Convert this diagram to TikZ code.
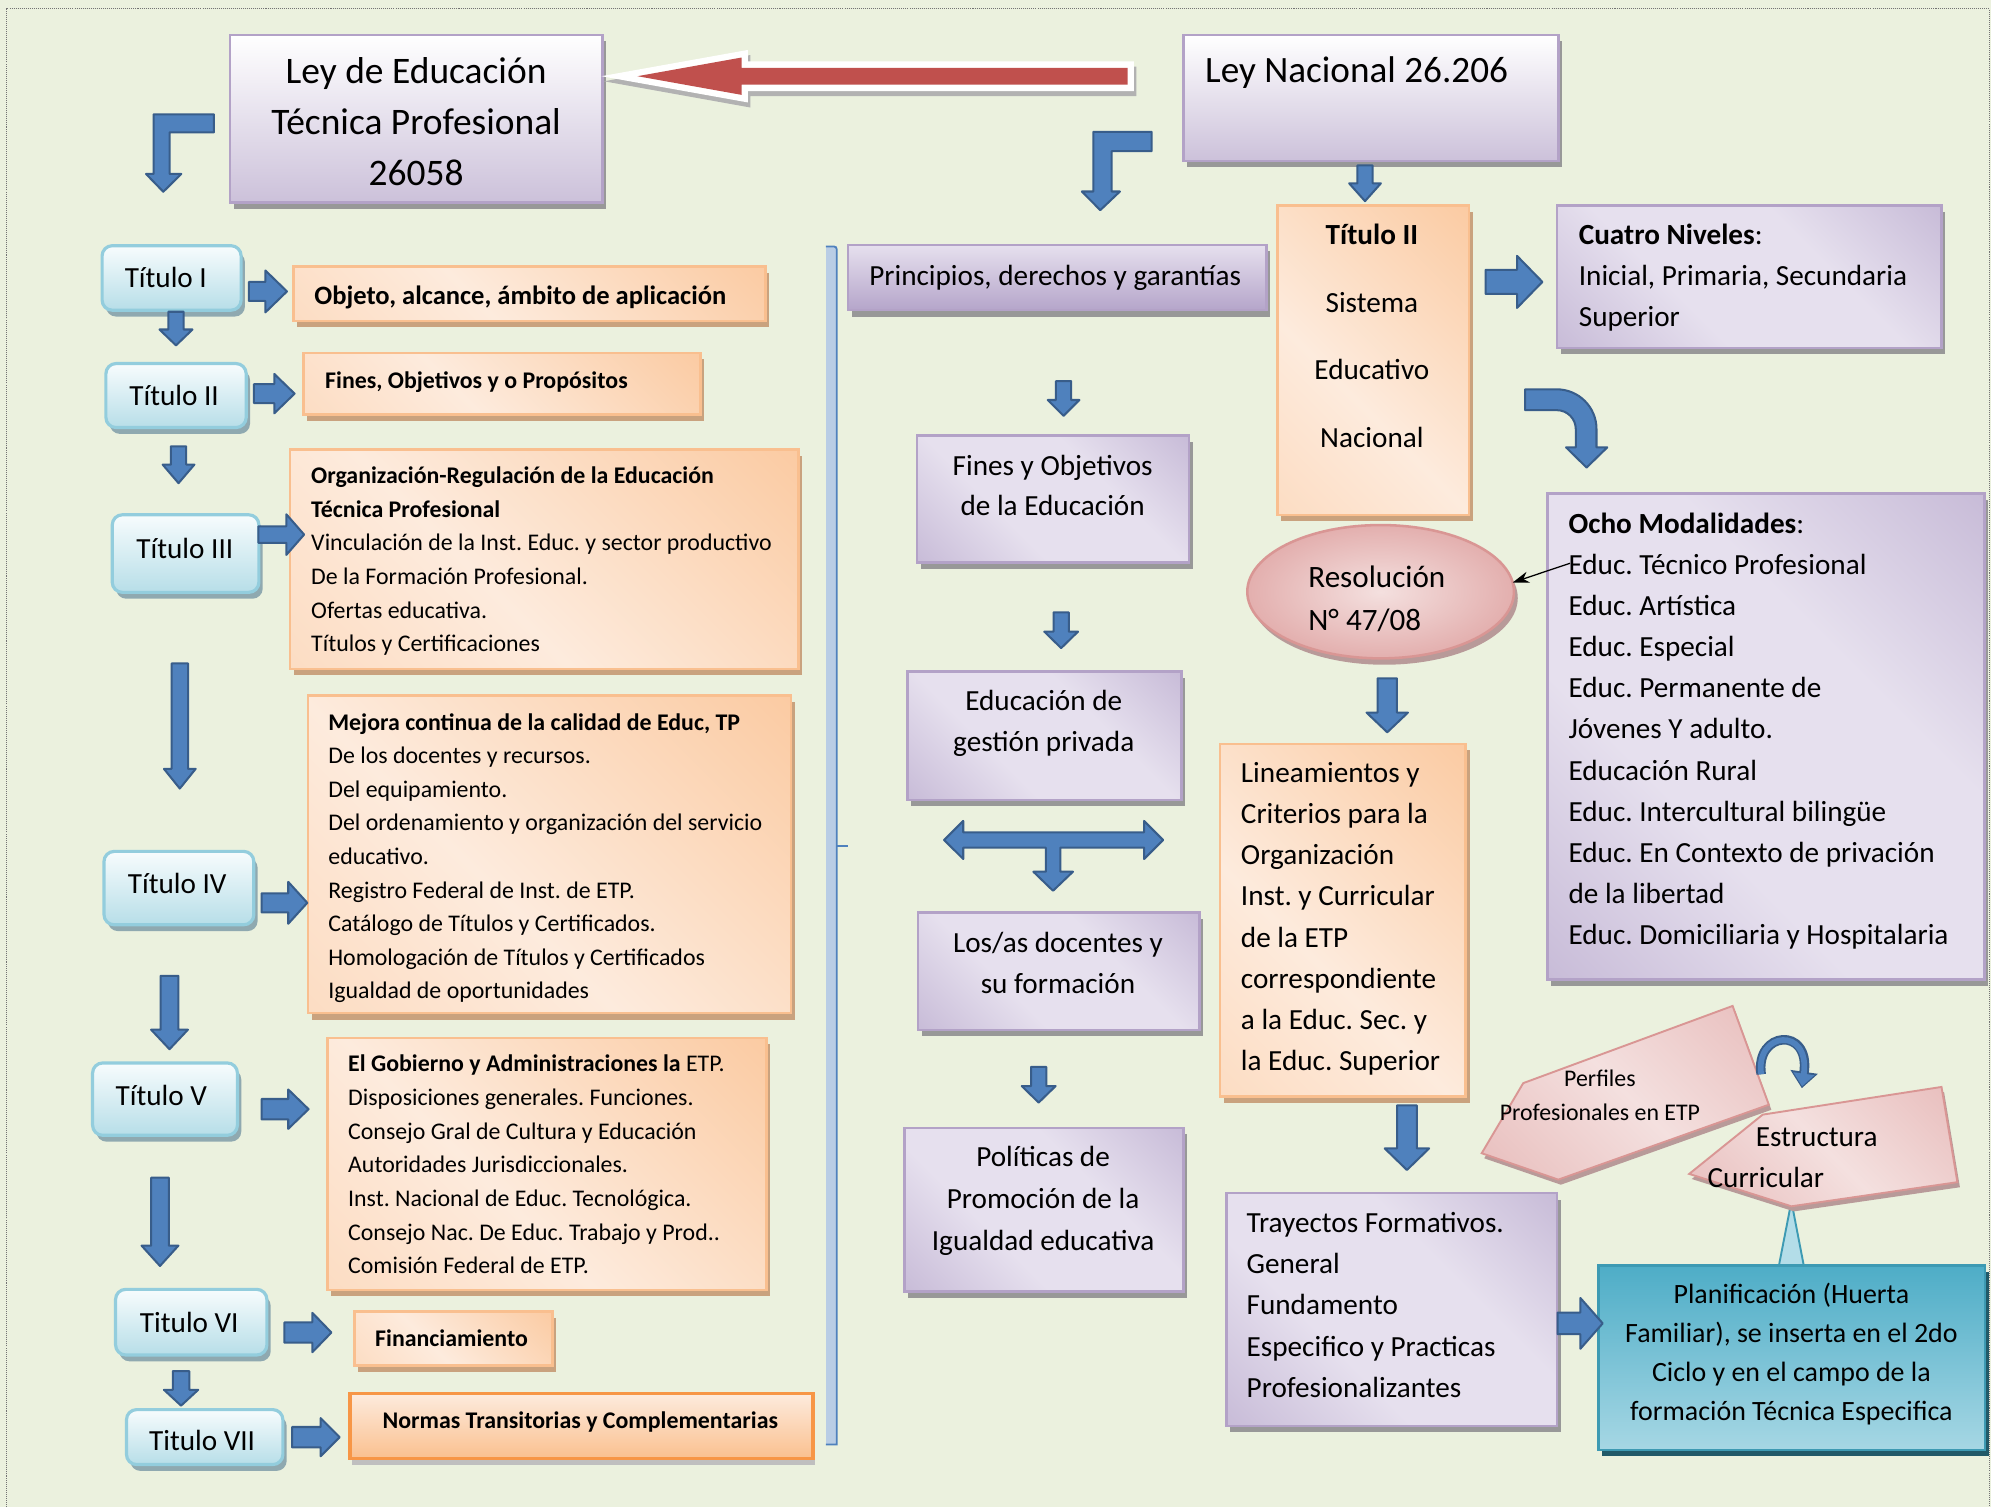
\documentclass[tikz,border=0pt]{standalone}
\usepackage{fontspec}
\setmainfont{Carlito}
\usetikzlibrary{shapes.geometric,shadows,arrows.meta}
\frenchspacing
\definecolor{bg}{HTML}{EBF1DE}
\definecolor{pdark}{HTML}{B5A5CA}
\definecolor{plight}{HTML}{E6E0EE}
\definecolor{pbot}{HTML}{CCC1DA}
\definecolor{pborder}{HTML}{B3A2C7}
\definecolor{shgray}{HTML}{989898}
\definecolor{odark}{HTML}{FAC08F}
\definecolor{omid}{HTML}{FCD5B5}
\definecolor{olight}{HTML}{FDEBDD}
\definecolor{oborder}{HTML}{F9BF8F}
\definecolor{oshadow}{HTML}{C9A27E}
\definecolor{nborder}{HTML}{F79646}
\definecolor{tbtop}{HTML}{F7FCFD}
\definecolor{tbbot}{HTML}{B7DEE8}
\definecolor{tbborder}{HTML}{93CDDD}
\definecolor{tbshadow}{HTML}{8FA9B0}
\definecolor{arrowblue}{HTML}{4F81BD}
\definecolor{arrowdark}{HTML}{385D8A}
\definecolor{redarrow}{HTML}{C0504D}
\definecolor{pkdark}{HTML}{E3AFAE}
\definecolor{pklight}{HTML}{F4E0DF}
\definecolor{pkborder}{HTML}{D99694}
\definecolor{pkshadow}{HTML}{B89A99}
\definecolor{teal}{HTML}{4EADC7}
\definecolor{teallight}{HTML}{A6D7E4}
\definecolor{tealborder}{HTML}{3D9AB3}
\definecolor{tealshadow}{HTML}{215968}
\definecolor{brfill}{HTML}{B9CDE5}
\pgfdeclarehorizontalshading{purplediag}{100bp}{color(0bp)=(pdark); color(38bp)=(plight); color(62bp)=(plight); color(100bp)=(pdark)}
\pgfdeclarehorizontalshading{orangediag}{100bp}{color(0bp)=(omid); color(42bp)=(olight); color(100bp)=(odark)}
\pgfdeclarehorizontalshading{pinkdiag}{100bp}{color(0bp)=(pkdark); color(50bp)=(pklight); color(100bp)=(pkdark)}
\newcommand\fsz[2]{\fontsize{#1}{#2}\selectfont}
\newcommand\fstrut[1]{\rule{0pt}{#1pt}}
\newcommand\bx[6]{\node[#2, anchor=north west, minimum width={#5pt-#3pt}, minimum height={#6pt-#4pt}] (#1) at (#3,#4) {};}
\newcommand\blockarr[7]{%
  \begin{scope}[shift={(#1,#2)}, rotate=#3]
    \path[blockarrow] (0,{-#5/2}) -- ({#4-#7},{-#5/2}) -- ({#4-#7},{-#6/2}) -- (#4,0) -- ({#4-#7},{#6/2}) -- ({#4-#7},{#5/2}) -- (0,{#5/2}) -- cycle;
  \end{scope}}
\tikzset{
  boxbase/.style={rectangle, inner sep=0, outer sep=0, line width=2pt},
  purpv/.style={boxbase, draw=pborder, top color=white, bottom color=pbot,
    drop shadow={shadow xshift=3pt, shadow yshift=-5pt, opacity=1, fill=shgray}},
  purpv2/.style={boxbase, draw=pborder, top color=plight, bottom color=pdark,
    drop shadow={shadow xshift=3pt, shadow yshift=-5pt, opacity=1, fill=shgray}},
  purpd/.style={boxbase, draw=pborder, shading=purplediag, shading angle=45,
    drop shadow={shadow xshift=3pt, shadow yshift=-5pt, opacity=1, fill=shgray}},
  orangebox/.style={boxbase, draw=oborder, shading=orangediag, shading angle=45,
    drop shadow={shadow xshift=3pt, shadow yshift=-5pt, opacity=1, fill=oshadow}},
  normasbox/.style={boxbase, draw=nborder, line width=2.5pt, top color=olight, bottom color=odark,
    drop shadow={shadow xshift=2pt, shadow yshift=-5pt, opacity=1, fill=black!25}},
  titlebox/.style={boxbase, rounded corners=8pt, draw=tbborder, line width=2.5pt, top color=tbtop, bottom color=tbbot,
    drop shadow={shadow xshift=3pt, shadow yshift=-5pt, opacity=1, fill=tbshadow}},
  calloutbox/.style={boxbase, draw=tealborder, top color=teal, bottom color=teallight,
    drop shadow={shadow xshift=3pt, shadow yshift=-5pt, opacity=1, fill=tealshadow}},
  resell/.style={ellipse, inner sep=0, outer sep=0, draw=pkborder, line width=2pt, inner color=pklight, outer color=pkdark,
    drop shadow={shadow xshift=3pt, shadow yshift=-5pt, opacity=1, fill=pkshadow}},
  pinkshape/.style={draw=pkborder, line width=1.5pt, shading=pinkdiag, shading angle=45,
    drop shadow={shadow xshift=2pt, shadow yshift=-4pt, opacity=1, fill=pkshadow}},
  blockarrow/.style={fill=arrowblue, draw=arrowdark, line width=1.6pt, line join=round},
  lbl/.style={inner sep=0, outer sep=0, text=black},
}
\begin{document}
\begin{tikzpicture}[x=1pt,y=-1pt]
\useasboundingbox (0,0) rectangle (1568,1186.8);
\fill[bg] (0,0) rectangle (1568,1186.8);
\draw[black!55, line width=0.6pt, dash pattern=on 0.8pt off 0.8pt] (5,1186.8) -- (5,6.9) -- (1566.7,6.9) -- (1566.7,1186.8);

% ---------- boxes ----------
\bx{ley}{purpv}{181}{27.5}{474.5}{159.6}
\bx{nac}{purpv}{932}{27.5}{1227.2}{126.7}

\bx{t1}{titlebox}{80.4}{193.5}{189.9}{244.3}
\bx{t2}{titlebox}{83.4}{286.3}{193.9}{336.7}
\bx{t3}{titlebox}{88.4}{405.4}{203.9}{466.5}
\bx{t4}{titlebox}{81.9}{670.5}{199.9}{728.3}
\bx{t5}{titlebox}{72.9}{837.1}{187}{894.1}
\bx{t6}{titlebox}{91}{1015.4}{210.2}{1067.1}
\bx{t7}{titlebox}{99.6}{1110.1}{222.8}{1153.4}

\bx{o1}{orangebox}{231}{210}{602.7}{252.7}
\bx{o2}{orangebox}{239}{277.9}{551.5}{326.4}
\bx{o3}{orangebox}{228.5}{353.9}{628.8}{526.8}
\bx{o4}{orangebox}{242.6}{547.8}{622.8}{797.9}
\bx{o5}{orangebox}{258}{817.3}{603.5}{1015.8}
\bx{o6}{orangebox}{279.1}{1033}{435}{1075.5}
\bx{o7}{normasbox}{275.6}{1097.5}{640.2}{1148.5}

\bx{p1}{purpv2}{668}{192.8}{997.4}{244.3}
\bx{p2}{purpd}{722.2}{342.8}{936.5}{442.8}
\bx{p3}{purpd}{714.7}{528.7}{930.6}{630}
\bx{p4}{purpd}{723}{718.8}{944.6}{811.2}
\bx{p5}{purpd}{712.2}{888.4}{932}{1017.3}

\bx{tii}{orangebox}{1006}{161.9}{1156.8}{405.4}
\bx{cuatro}{purpd}{1226.2}{161.9}{1529}{274.1}
\bx{ocho}{purpd}{1218.7}{388.6}{1563}{771.3}
\bx{lin}{orangebox}{960.7}{586}{1154.3}{863.5}
\bx{tray}{purpd}{965.7}{939.7}{1226.2}{1123}
\node[resell, minimum width=210pt, minimum height=105pt] (res) at (1087.3,466) {};

% callout
\path[draw=tealborder, line width=1.5pt, fill=teallight!85!white] (1400.7,998) -- (1410.8,946.2) -- (1420.8,998) -- cycle;
\bx{plan}{calloutbox}{1259}{996.8}{1563.2}{1142}

% pentagons
\path[pinkshape] (1199.6,853) -- (1364.5,792.2) -- (1393,870) -- (1227.2,929) -- (1166.9,908.2) -- cycle;
\path[pinkshape] (1388.2,877.8) -- (1529,856) -- (1541.5,931) -- (1410.8,950) -- (1330.3,924.5) -- cycle;

% bracket
\fill[brfill] (650.5,193.7) rectangle (659,1138);
\draw[arrowblue, line width=1.4pt] (650.5,194.2) -- (657,194.2) to[out=0,in=90] (659,196.5) -- (659,1137.5) -- (650.5,1137.5);
\draw[arrowblue, line width=1.4pt] (659,666) -- (668,666);

% ---------- red arrow ----------
\begin{scope}[shift={(2,4)}]
\path[draw=black!30, fill=black!30, line width=10pt] (502,60) -- (584,45.3) -- (584,53.4) -- (888,53.4) -- (888,66.7) -- (584,66.7) -- (584,74.7) -- cycle;
\end{scope}
\path[draw=white, fill=white, line width=10pt] (502,60) -- (584,45.3) -- (584,53.4) -- (888,53.4) -- (888,66.7) -- (584,66.7) -- (584,74.7) -- cycle;
\path[fill=redarrow] (502,60) -- (584,45.3) -- (584,53.4) -- (888,53.4) -- (888,66.7) -- (584,66.7) -- (584,74.7) -- cycle;

% ---------- blue block arrows ----------
\path[blockarrow] (168.5,90) -- (121,90) -- (121,137) -- (115,137) -- (128.6,151) -- (142.8,137) -- (133.5,137) -- (133.5,104.3) -- (168.5,104.3) -- cycle;
\path[blockarrow] (907,103.8) -- (861,103.8) -- (861,150.8) -- (852,150.8) -- (866.5,165.5) -- (882,150.8) -- (875.5,150.8) -- (875.5,119) -- (907,119) -- cycle;
\path[blockarrow] (1201,306.6) -- (1226,306.6) arc[start angle=-90, end angle=0, radius=31.3] -- (1257.3,352.3) -- (1265.8,352.3) -- (1249.5,368.2) -- (1233.3,352.3) -- (1241,352.3) -- (1241,338) arc[start angle=0, end angle=-90, radius=15] -- (1201,323) -- cycle;
\path[blockarrow] (743.5,661.5) -- (758.6,646.5) -- (758.6,655.5) -- (901,655.5) -- (901,646.5) -- (916,661.5) -- (901,676.5) -- (901,667.5) -- (835,667.5) -- (835,686.5) -- (845,686.5) -- (829.3,701.5) -- (813.8,686.5) -- (823.6,686.5) -- (823.6,667.5) -- (758.6,667.5) -- (758.6,676.5) -- cycle;

\blockarr{196}{229.5}{0}{30}{15}{33}{17}
\blockarr{200}{310}{0}{32}{15}{31}{16}
\blockarr{203.5}{421}{0}{36}{13}{32}{14}
\blockarr{206}{711}{0}{36}{15}{33}{15}
\blockarr{206}{873.5}{0}{37}{16}{31}{16}
\blockarr{224}{1049.4}{0}{37}{16}{31}{15}
\blockarr{230}{1131.8}{0}{37.5}{16}{30}{15}
\blockarr{138.6}{245.5}{-90}{26.5}{12}{26}{12.5}
\blockarr{140.6}{351.5}{-90}{29}{12}{25}{14.6}
\blockarr{141.6}{522.5}{-90}{98.5}{13}{25}{15.5}
\blockarr{133.5}{768.5}{-90}{57.8}{14}{29}{15.4}
\blockarr{126}{927.5}{-90}{69.5}{14}{29}{16}
\blockarr{142.6}{1079.8}{-90}{27.2}{13}{27}{12.5}
\blockarr{837.6}{300.2}{-90}{27.3}{12}{25}{12.5}
\blockarr{835.7}{482.3}{-90}{28.1}{12}{26.6}{13}
\blockarr{818}{840.2}{-90}{28.1}{12}{26.7}{13}
\blockarr{1075}{130.3}{-90}{28.1}{12}{25}{14}
\blockarr{1169.9}{222}{0}{44.8}{19}{41}{20}
\blockarr{1092.5}{534.2}{-90}{42.5}{15.3}{32.6}{15.5}
\blockarr{1108}{870.5}{-90}{50.9}{15.6}{35}{17}
\blockarr{1226.7}{1042.2}{0}{35.5}{17}{40}{17.6}

% curved circular arrow
\draw[arrowdark, line width=7.5pt, -{Triangle[width=21pt,length=13pt]}] (1387,846) .. controls (1382,812) and (1426,808) .. (1419,857);
\draw[arrowblue, line width=4.5pt, -{Triangle[width=16pt,length=10pt]}] (1387,846) .. controls (1382,812) and (1426,808) .. (1419.2,855.5);

% thin arrow to resolution
\coordinate (ochoptr) at (1236.4,443.6);
\draw[black, line width=1pt, -{Stealth[length=13pt,width=9pt]}] (ochoptr) -- (res.4);

% ---------- texts ----------
\node[lbl, anchor=north, align=center, font=\fsz{29.5}{40.5}] (tley) at (327.7,35.9) {\fstrut{29.5}Ley de Educación\\Técnica Profesional\\26058};
\node[lbl, anchor=north west, font=\fsz{29.3}{40.5}] (tnac) at (949.1,36) {\fstrut{29.3}Ley Nacional 26.206};

\node[lbl, anchor=north, font=\fsz{23}{30}] (tt1) at (130.6,203.6) {\fstrut{23}Título I};
\node[lbl, anchor=north, font=\fsz{23}{30}] (tt2) at (137.1,296.2) {\fstrut{23}Título II};
\node[lbl, anchor=north, font=\fsz{23}{30}] (tt3) at (145.6,417.2) {\fstrut{23}Título III};
\node[lbl, anchor=north, font=\fsz{23}{30}] (tt4) at (139.6,681) {\fstrut{23}Título IV};
\node[lbl, anchor=north, font=\fsz{23}{30}] (tt5) at (127,847.6) {\fstrut{23}Título V};
\node[lbl, anchor=north, font=\fsz{23}{30}] (tt6) at (149.1,1026.3) {\fstrut{23}Titulo VI};
\node[lbl, anchor=north, font=\fsz{23}{30}] (tt7) at (159.2,1119) {\fstrut{23}Titulo VII};

\node[lbl, anchor=north west, font=\fsz{20.9}{26}\bfseries] (to1) at (247.6,219) {\fstrut{20.9}Objeto, alcance, ámbito de aplicación};
\node[lbl, anchor=north west, font=\fsz{18.8}{26}\bfseries] (to2) at (256.1,286.8) {\fstrut{18.8}Fines, Objetivos y o Propósitos};
\node[lbl, anchor=north west, align=left, font=\fsz{18.8}{26.5}] (to3) at (245.1,362.1) {\fstrut{18.8}\textbf{Organización-Regulación de la Educación}\\\textbf{Técnica Profesional}\\Vinculación de la Inst. Educ. y sector productivo\\De la Formación Profesional.\\Ofertas educativa.\\Títulos y Certificaciones};
\node[lbl, anchor=north west, align=left, font=\fsz{18.8}{26.4}] (to4) at (258.6,556.4) {\fstrut{18.8}\textbf{Mejora continua de la calidad de Educ, TP}\\De los docentes y recursos.\\Del equipamiento.\\Del ordenamiento y organización del servicio\\educativo.\\Registro Federal de Inst. de ETP.\\Catálogo de Títulos y Certificados.\\Homologación de Títulos y Certificados\\Igualdad de oportunidades};
\node[lbl, anchor=north west, align=left, font=\fsz{18.8}{26.5}] (to5) at (274.2,825.4) {\fstrut{18.8}\textbf{El Gobierno y Administraciones la} ETP.\\Disposiciones generales. Funciones.\\Consejo Gral de Cultura y Educación\\Autoridades Jurisdiccionales.\\Inst. Nacional de Educ. Tecnológica.\\Consejo Nac. De Educ. Trabajo y Prod..\\Comisión Federal de ETP.};
\node[lbl, anchor=north, font=\fsz{18.8}{26}\bfseries] (to6) at (355.6,1041.4) {\fstrut{18.8}Financiamiento};
\node[lbl, anchor=north, font=\fsz{18.8}{26}\bfseries] (to7) at (457,1106) {\fstrut{18.8}Normas Transitorias y Complementarias};

\node[lbl, anchor=north west, font=\fsz{23}{32}] (tp1) at (684.6,201.5) {\fstrut{23}Principios, derechos y garantías};
\node[lbl, anchor=north, align=center, font=\fsz{23}{31.7}] (tp2) at (829,351.1) {\fstrut{23}Fines y Objetivos\\de la Educación};
\node[lbl, anchor=north, align=center, font=\fsz{23}{32.2}] (tp3) at (822,536.7) {\fstrut{23}Educación de\\gestión privada};
\node[lbl, anchor=north, align=center, font=\fsz{23}{32}] (tp4) at (833.2,727.4) {\fstrut{23}Los/as docentes y\\su formación};
\node[lbl, anchor=north, align=center, font=\fsz{23}{32.8}] (tp5) at (821.5,895.9) {\fstrut{23}Políticas de\\Promoción de la\\Igualdad educativa};

\node[lbl, anchor=north, align=center, font=\fsz{23}{53.2}] (ttii) at (1080.4,169.8) {\fstrut{23}\textbf{Título II}\\Sistema\\Educativo\\Nacional};
\node[lbl, anchor=north west, align=left, font=\fsz{23}{32.2}] (tcuatro) at (1243.4,169.8) {\fstrut{23}\textbf{Cuatro Niveles}:\\Inicial, Primaria, Secundaria\\Superior};
\node[lbl, anchor=north west, align=left, font=\fsz{23}{32.41}] (tocho) at (1235.3,396.9) {\fstrut{23}\textbf{Ocho Modalidades}:\\Educ. Técnico Profesional\\Educ. Artística\\Educ. Especial\\Educ. Permanente de\\Jóvenes Y adulto.\\Educación Rural\\Educ. Intercultural bilingüe\\Educ. En Contexto de privación\\de la libertad\\Educ. Domiciliaria y Hospitalaria};
\node[lbl, anchor=north west, align=left, font=\fsz{24.5}{34.1}] (tres) at (1030.4,438.3) {\fstrut{24.5}Resolución\\N° 47/08};
\node[lbl, anchor=north west, align=left, font=\fsz{23}{32.33}] (tlin) at (977.3,593.5) {\fstrut{23}Lineamientos y\\Criterios para la\\Organización\\Inst. y Curricular\\de la ETP\\correspondiente\\a la Educ. Sec. y\\la Educ. Superior};
\node[lbl, anchor=north west, align=left, font=\fsz{23}{32.3}] (ttray) at (981.8,948) {\fstrut{23}Trayectos Formativos.\\General\\Fundamento\\Especifico y Practicas\\Profesionalizantes};
\node[lbl, anchor=north, align=center, font=\fsz{22}{30.93}] (tplan) at (1410.8,1004.2) {\fstrut{22}Planificación (Huerta\\Familiar), se inserta en el 2do\\Ciclo y en el campo de la\\formación Técnica Especifica};
\node[lbl, anchor=north, align=center, font=\fsz{18.8}{26.6}] (tperf) at (1260,836.8) {\fstrut{18.8}Perfiles\\Profesionales en ETP};
\node[lbl, anchor=north west, align=left, font=\fsz{23}{32}] (testr) at (1344.8,879.9) {\fstrut{23}\hspace*{38pt}Estructura\\Curricular};
\end{tikzpicture}
\end{document}
